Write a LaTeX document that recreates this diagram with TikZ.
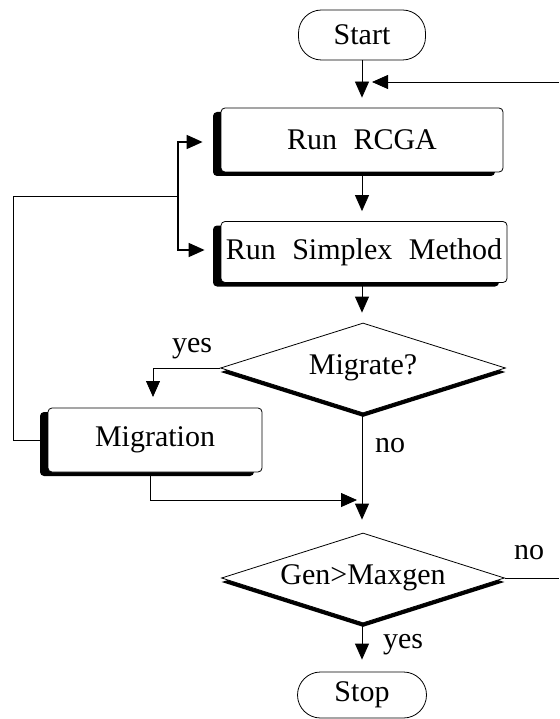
\documentclass[tikz,border=0pt]{standalone}
\usepackage{fontspec}
\setmainfont{Liberation Serif}[WordSpace=2.2]
\usetikzlibrary{arrows.meta,shapes.geometric,shadows}
\begin{document}
\begin{tikzpicture}[x=1pt,y=-1pt,
  font=\fontsize{30}{36}\selectfont,
  line width=0.8pt,
  arr/.style={-{Triangle[length=16pt 0 0,width=14pt 0 0]}},
  term/.style={draw,rectangle,rounded corners=23pt,inner sep=0pt},
  procbox/.style={draw,fill=white,rectangle,rounded corners=4pt,inner sep=0pt,
    drop shadow={shadow xshift=-8pt,shadow yshift=-4pt,fill=black,opacity=1}},
  decision/.style={draw,fill=white,diamond,inner sep=0pt,aspect=3,
    drop shadow={shadow xshift=0pt,shadow yshift=-4pt,fill=black,opacity=1}},
  lbl/.style={inner sep=0pt}]
\useasboundingbox (0,0) rectangle (559,719);
% nodes
\node[term,minimum width=127pt,minimum height=50pt] (start) at (362,35) {Start};
\node[procbox,minimum width=282pt,minimum height=64pt] (rcga) at (362,140) {Run RCGA};
\node[procbox,minimum width=286pt,minimum height=61pt] (simplex) at (364,252) {Run Simplex Method};
\node[decision,minimum width=285pt,minimum height=90pt] (mig1) at (363,368) {Migrate?};
\node[procbox,minimum width=214pt,minimum height=64pt] (migr) at (155,440) {Migration};
\node[decision,minimum width=283pt,minimum height=90pt] (gen) at (363,578) {Gen>Maxgen};
\node[term,minimum width=129pt,minimum height=46pt] (stop) at (362,695) {Stop};
% labels
\node[lbl] (lyes1) at (192,349) {yes};
\node[lbl] (lno1) at (390,446) {no};
\node[lbl] (lno2) at (529,553) {no};
\node[lbl] (lyes2) at (403,645) {yes};
% coordinates
\coordinate (main) at (362,0);
\coordinate (rin) at (559,82);
\coordinate (rtip) at (372,82);
\coordinate (fbtop) at (178,142);
\coordinate (fbmid) at (178,196);
\coordinate (fbbot) at (178,250);
\coordinate (fbleft) at (13,196);
\coordinate (yestip) at (153,397);
\coordinate (mtop) at (150,475);
\coordinate (mcor) at (150,500);
\coordinate (mtip) at (357,500);
\coordinate (gout) at (559,578);
% connectors
\draw[arr,shorten >=10pt] (start) -- (rcga);
\draw[arr] (rin) -- (rtip);
\draw[arr,shorten >=10pt] (rcga.south -| main) -- (simplex.north -| main);
\draw[arr,shorten >=10pt] (simplex.south -| main) -- (mig1.north -| main);
\draw[arr,line width=1.6pt,shorten >=18pt] (fbbot) -- (fbtop) -- (rcga.west |- fbtop);
\draw[arr,line width=1.6pt,shorten >=16pt] (fbmid) -- (fbbot) -- (simplex.west |- fbbot);
\draw[shorten <=8pt] (migr.west) -- (migr.west -| fbleft) -- (fbleft) -- (fbmid);
\draw[arr] (mig1.west) -| (yestip);
\draw[arr,shorten >=13pt] (mig1.south -| main) -- (gen.north -| main);
\draw[arr] (mtop) -- (mcor) -- (mtip);
\draw (gen.east) -- (gout);
\draw[arr,shorten >=12pt] (gen.south -| main) -- (stop.north -| main);
\end{tikzpicture}
\end{document}
